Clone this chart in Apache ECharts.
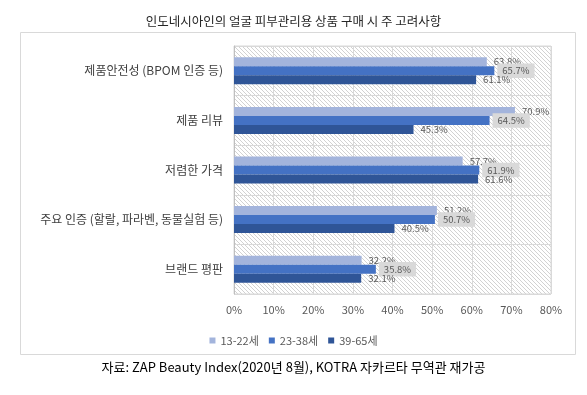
<!DOCTYPE html>
<html>
<head>
<meta charset="utf-8">
<script src="https://cdn.jsdelivr.net/npm/echarts@6/dist/echarts.min.js"></script>
<style>
html,body{margin:0;padding:0;background:#fff;}
#c{width:587px;height:395px;}
</style>
</head>
<body>
<div id="c"></div>
<script>
const categories = ['제품안전성 (BPOM 인증 등)', '제품 리뷰', '저렴한 가격', '주요 인증 (할랄, 파라벤, 동물실험 등)', '브랜드 평판'];
const seriesNames = ['13-22세', '23-38세', '39-65세'];
const age13_22 = [63.8, 70.9, 57.7, 51.2, 32.2];
const age23_38 = [65.7, 64.5, 61.9, 50.7, 35.8];
const age39_65 = [61.1, 45.3, 61.6, 40.5, 32.1];
const xTicks = [0, 10, 20, 30, 40, 50, 60, 70, 80];

const FONT = '"Noto Sans CJK KR", "Noto Sans", sans-serif';

// hatch pattern for plot background
const pc = document.createElement('canvas');
pc.width = 4; pc.height = 4;
const pctx = pc.getContext('2d');
pctx.fillStyle = '#ffffff';
pctx.fillRect(0, 0, 4, 4);
pctx.fillStyle = '#d2d2d2';
for (let i = 0; i < 4; i++) pctx.fillRect(i, i, 1, 1);

const chart = echarts.init(document.getElementById('c'), null, {renderer: 'canvas'});

const labelBase = {
  show: true,
  position: 'right',
  distance: 7,
  fontSize: 9.5,
  fontFamily: FONT,
  color: '#595959',
  formatter: p => p.value.toFixed(1) + '%'
};

function mk(name, data, color, extraLabel) {
  return {
    name: name,
    type: 'bar',
    data: data,
    barWidth: 9,
    barGap: '0%',
    itemStyle: {color: color},
    label: Object.assign({}, labelBase, extraLabel || {}),
    z: 3
  };
}

chart.setOption({
  animation: false,
  textStyle: {fontFamily: FONT},
  title: {
    text: '인도네시아인의 얼굴 피부관리용 상품 구매 시 주 고려사항',
    left: 'center',
    top: 10,
    textStyle: {fontSize: 12.5, fontWeight: 'normal', color: '#262626', fontFamily: FONT}
  },
  graphic: [
    {type: 'rect', shape: {x: 20.5, y: 32.5, width: 555, height: 322}, style: {fill: 'none', stroke: '#d9d9d9', lineWidth: 1}, z: -10},
    {type: 'text', left: 'center', top: 361, style: {text: '자료: ZAP Beauty Index(2020년 8월), KOTRA 자카르타 무역관 재가공', fontSize: 13, fill: '#000000', fontFamily: FONT}}
  ],
  legend: {
    data: seriesNames,
    left: 'center',
    top: 330,
    icon: 'rect',
    itemWidth: 6,
    itemHeight: 6,
    itemGap: 10,
    textStyle: {fontSize: 11, color: '#595959', fontFamily: FONT}
  },
  grid: {
    left: 234,
    right: 36,
    top: 46,
    bottom: 101,
    show: true,
    backgroundColor: {image: pc, repeat: 'repeat'},
    borderColor: '#d9d9d9',
    borderWidth: 1
  },
  xAxis: {
    type: 'value',
    min: xTicks[0],
    max: xTicks[xTicks.length - 1],
    interval: 10,
    axisLine: {show: false},
    axisTick: {show: false},
    splitLine: {show: true, lineStyle: {color: '#d9d9d9', width: 1}},
    axisLabel: {formatter: '{value}%', fontSize: 11, color: '#595959', margin: 10, fontFamily: FONT}
  },
  yAxis: {
    type: 'category',
    data: categories,
    inverse: true,
    axisLine: {show: true, lineStyle: {color: '#bfbfbf'}},
    axisTick: {show: false},
    splitLine: {show: true, lineStyle: {color: '#d9d9d9', width: 1}},
    axisLabel: {fontSize: 12, color: '#404040', margin: 11, fontFamily: FONT}
  },
  series: [
    mk(seriesNames[0], age13_22, '#a3b4dc'),
    mk(seriesNames[1], age23_38, '#4472c4', {backgroundColor: '#d9d9d9', padding: [3, 5, 2, 5], distance: 3}),
    mk(seriesNames[2], age39_65, '#2f5597')
  ]
});
</script>
</body>
</html>
